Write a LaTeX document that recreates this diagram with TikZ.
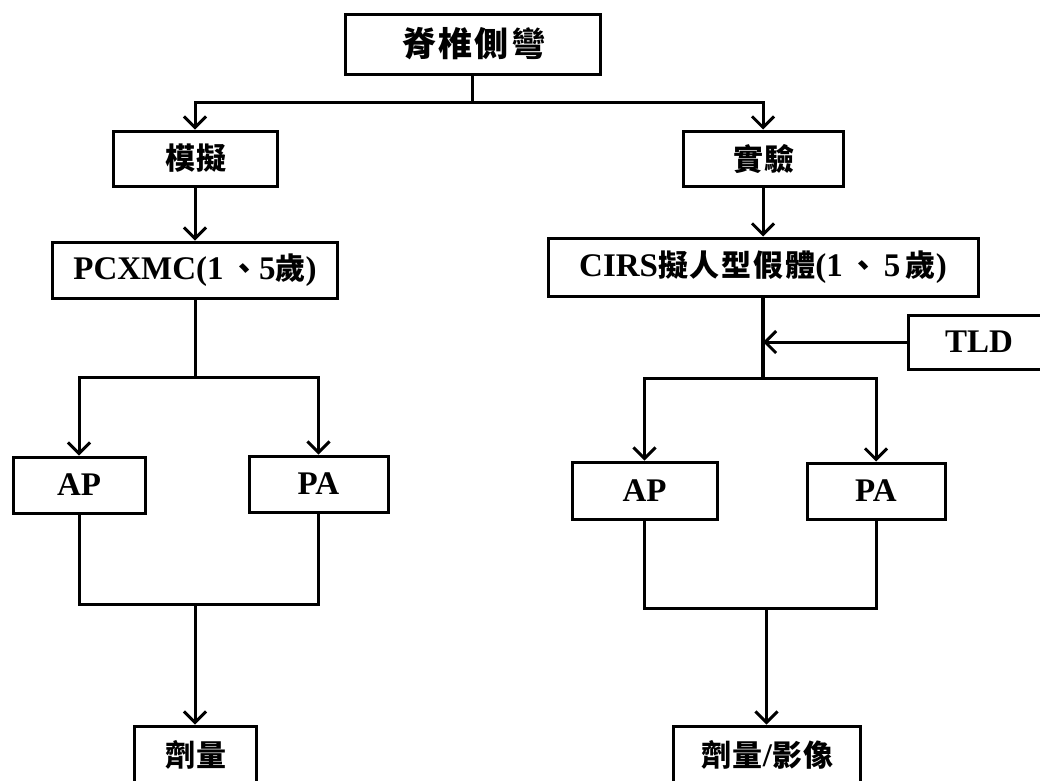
\documentclass[tikz,border=0pt]{standalone}
\usepackage{fontspec}
\setmainfont{Liberation Serif}
\newfontfamily\cjk{Noto Sans CJK TC}[LetterSpace=6]
\usetikzlibrary{arrows.meta}
\tikzset{
  box/.style={draw, line width=3pt, minimum width=#1, inner sep=0pt, font=\fontsize{33}{36}\selectfont\bfseries},
  conn/.style={line width=3pt},
  arr/.style={conn, -{Straight Barb[length=11pt,width=22pt,line width=3pt]}},
}
\newcommand{\cj}[1]{{\cjk\fontsize{30}{33}\selectfont\bfseries #1}}
\begin{document}
\begin{tikzpicture}[x=1pt,y=-1pt]
\useasboundingbox (0,0) rectangle (1040,780);
\clip (0,0) rectangle (1040,780);
\fill[white] (0,0) rectangle (1040,780);
\node[box=255pt, minimum height=60pt] (top) at (472.5,44) {\hspace*{3pt}{\cjk\fontsize{34}{36}\selectfont\bfseries 脊椎側彎}};
\node[box=164pt, minimum height=55pt] (sim) at (195,158.5) {\hspace*{2pt}\cj{模擬}};
\node[box=160pt, minimum height=55pt] (exp) at (763,158.5) {\hspace*{2pt}\cj{實驗}};
\node[box=285pt, minimum height=56pt] (pcx) at (195,270) {PCXMC(1\,\cj{、}5\cj{歲})};
\node[box=430pt, minimum height=58pt] (cirs) at (763,267) {CIRS\cj{擬人型假體}(1\,\cj{、}\,5\,\cj{歲})};
\node[box=142pt, minimum height=54pt] (tld) at (979,342) {TLD};
\node[box=132pt, minimum height=56pt] (lap) at (79,485) {AP};
\node[box=139pt, minimum height=56pt] (lpa) at (318.5,484) {PA};
\node[box=145pt, minimum height=57pt] (rap) at (644.5,490.5) {AP};
\node[box=138pt, minimum height=56pt] (rpa) at (876,491) {PA};
\node[box=122pt, minimum height=58pt] (ldose) at (195,755) {\hspace*{2pt}\cj{劑量}};
\node[box=187pt, minimum height=58pt] (rdose) at (766.5,755) {\hspace*{2pt}\cj{劑量}/\cj{影像}};
% top split
\coordinate (tb) at (472.5,102);
\draw[conn] (top.south) -- (tb);
\draw[arr] (tb) -| (sim.north);
\draw[arr] (tb) -| (exp.north);
\draw[arr] (sim.south) -- (pcx.north);
\draw[arr] (exp.south) -- (cirs.north);
% left middle
\coordinate (lb) at (195,377);
\draw[conn] (pcx.south) -- (lb);
\draw[arr] (lb) -| (lap.north);
\draw[arr] (lb) -| (lpa.north);
% right middle
\coordinate (rb) at (763,378);
\draw[line width=3.8pt] (cirs.south) -- (rb);
\draw[arr] (tld.west) -- (tld.west -| cirs.south);
\draw[arr] (rb) -| (rap.north);
\draw[arr] (rb) -| (rpa.north);
% left bottom
\coordinate (lm) at (195,604);
\draw[conn] (lap.south) |- (lm);
\draw[conn] (lpa.south) |- (lm);
\draw[arr] (lm) -- (ldose.north);
% right bottom
\coordinate (rm) at (766.5,608);
\draw[conn] (rap.south) |- (rm);
\draw[conn] (rpa.south) |- (rm);
\draw[arr] (rm) -- (rdose.north);
\end{tikzpicture}
\end{document}
